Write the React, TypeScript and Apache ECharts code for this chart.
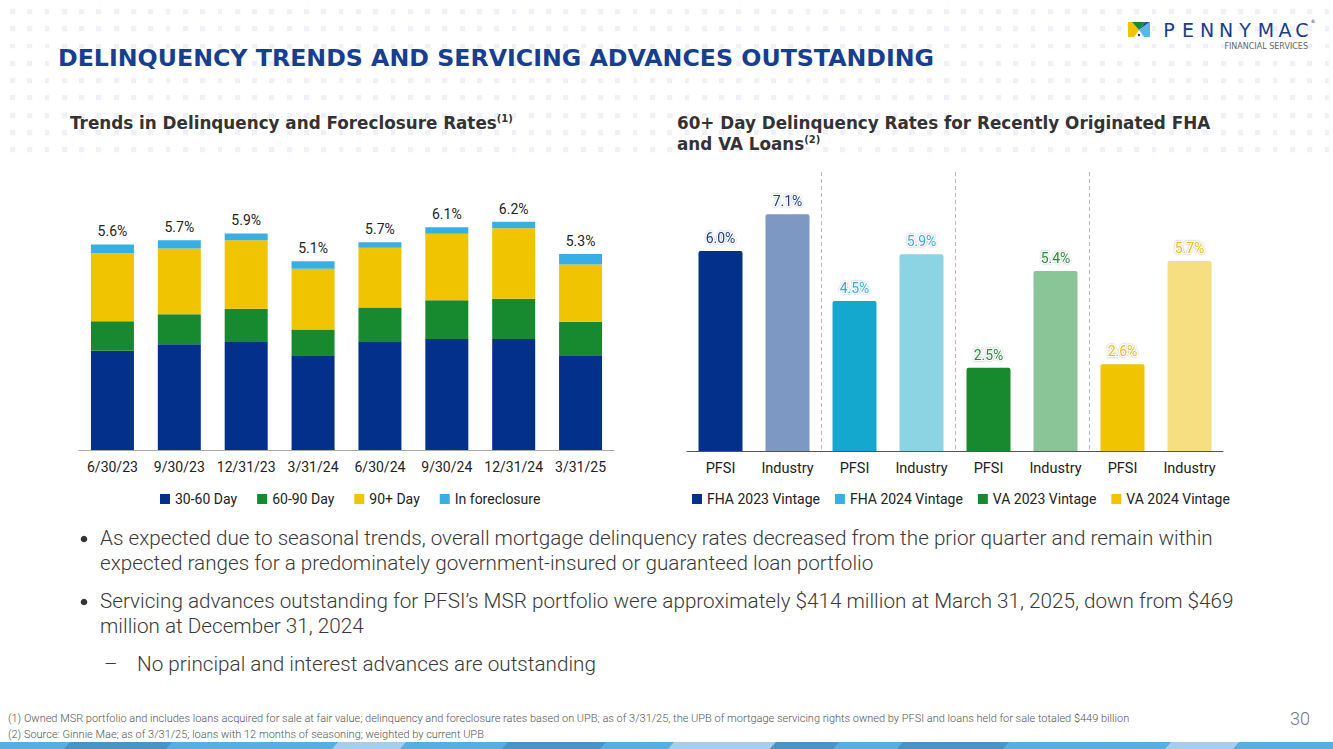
import React, { useEffect, useRef } from "react";
import * as echarts from "echarts";

// ---- Left chart data ----
const quarters = ["6/30/23", "9/30/23", "12/31/23", "3/31/24", "6/30/24", "9/30/24", "12/31/24", "3/31/25"];
const day3060 = [2.70, 2.88, 2.94, 2.56, 2.94, 3.02, 3.02, 2.58];
const day6090 = [0.81, 0.82, 0.91, 0.72, 0.94, 1.06, 1.10, 0.91];
const day90plus = [1.85, 1.79, 1.86, 1.66, 1.63, 1.81, 1.92, 1.56];
const inForeclosure = [0.24, 0.22, 0.19, 0.20, 0.15, 0.18, 0.18, 0.29];
const totalRates = [5.6, 5.7, 5.9, 5.1, 5.7, 6.1, 6.2, 5.3];
const leftSeriesNames = ["30-60 Day", "60-90 Day", "90+ Day", "In foreclosure"];

// ---- Right chart data ----
const vintages = ["FHA 2023 Vintage", "FHA 2024 Vintage", "VA 2023 Vintage", "VA 2024 Vintage"];
const groupLabels = ["PFSI", "Industry"];
const pfsiRates = [6.0, 4.5, 2.5, 2.6];
const industryRates = [7.1, 5.9, 5.4, 5.7];

const leftColors = ["#02308a", "#178a2f", "#f1c400", "#38aee2"];
const vintageLegendColors = ["#02308a", "#38aee2", "#178a2f", "#f1c400"];
const pfsiColors = ["#02308a", "#14a8cf", "#178a2f", "#f1c400"];
const industryColors = ["#7e98c4", "#8cd3e3", "#89c596", "#f6df80"];
const labelColors = ["#22408a", "#35aedb", "#2b8c3f", "#eac21c"];

const bullets = [
  { y: 538, text: "As expected due to seasonal trends, overall mortgage delinquency rates decreased from the prior quarter and remain within", bullet: true },
  { y: 563, text: "expected ranges for a predominately government-insured or guaranteed loan portfolio", bullet: false },
  { y: 601, text: "Servicing advances outstanding for PFSI\u2019s MSR portfolio were approximately $414 million at March 31, 2025, down from $469", bullet: true },
  { y: 626, text: "million at December 31, 2024", bullet: false },
];

const footnotes = [
  "(1) Owned MSR portfolio and includes loans acquired for sale at fair value; delinquency and foreclosure rates based on UPB; as of 3/31/25, the UPB of mortgage servicing rights owned by PFSI and loans held for sale totaled $449 billion",
  "(2) Source: Ginnie Mae; as of 3/31/25; loans with 12 months of seasoning; weighted by current UPB",
];

const stripeBands = [
  { x0: 0, x1: 1333, c: "#5aaddf" },
  { x0: 64, x1: 166, c: "#4b93c2" },
  { x0: 332, x1: 400, c: "#a7cdec" },
  { x0: 502, x1: 600, c: "#4b93c2" },
  { x0: 668, x1: 770, c: "#a7cdec" },
  { x0: 770, x1: 833, c: "#4b93c2" },
  { x0: 897, x1: 1003, c: "#4b93c2" },
  { x0: 1165, x1: 1233, c: "#a7cdec" },
];

const patternUrl =
  "url(\"data:image/svg+xml;utf8,<svg xmlns='http://www.w3.org/2000/svg' width='17.3' height='17.3'><rect x='0' y='0' width='5' height='5' fill='%23eef1f7'/></svg>\")";

const BODY_FONT = "'Roboto Light', Roboto";

function buildOption() {
  const rightKeys: string[] = [];
  vintages.forEach((v) => groupLabels.forEach((g) => rightKeys.push(g + "|" + v)));

  const leftData = [day3060, day6090, day90plus, inForeclosure];
  const leftSeries = leftSeriesNames.map((name, i) => ({
    name,
    type: "bar",
    stack: "left",
    xAxisIndex: 0,
    yAxisIndex: 0,
    barWidth: 43,
    itemStyle: { color: leftColors[i] },
    data: leftData[i],
    label:
      i === 3
        ? {
            show: true,
            position: "top",
            distance: 6,
            fontFamily: "Roboto",
            fontSize: 14,
            color: "#222",
            formatter: (p: any) => totalRates[p.dataIndex].toFixed(1) + "%",
          }
        : { show: false },
  }));

  const rightSeries = vintages.map((name, v) => {
    const data: any[] = rightKeys.map(() => "-");
    data[2 * v] = { value: pfsiRates[v], itemStyle: { color: pfsiColors[v] } };
    data[2 * v + 1] = { value: industryRates[v], itemStyle: { color: industryColors[v] } };
    return {
      name,
      type: "bar",
      stack: "right",
      xAxisIndex: 1,
      yAxisIndex: 1,
      barWidth: 44,
      itemStyle: { color: vintageLegendColors[v], borderRadius: [2, 2, 0, 0] },
      data,
      label: {
        show: true,
        position: "top",
        distance: 6,
        fontFamily: "Roboto",
        fontSize: 14,
        color: labelColors[v],
        textBorderColor: "rgba(255,255,255,0.9)",
        textBorderWidth: 2,
        textShadowColor: "rgba(0,0,0,0.35)",
        textShadowBlur: 2,
        formatter: (p: any) => Number(p.value).toFixed(1) + "%",
      },
    };
  });

  const graphics: any[] = [];

  // bottom stripe
  stripeBands.forEach((b, i) => {
    const s = i === 0 ? 0 : 6;
    graphics.push({
      type: "polygon",
      silent: true,
      shape: { points: [[b.x0 + s, 742], [b.x1 + s, 742], [b.x1, 749], [b.x0, 749]] },
      style: { fill: b.c },
    });
  });

  // title
  graphics.push({
    type: "text",
    x: 58,
    y: 58,
    style: {
      text: "DELINQUENCY TRENDS AND SERVICING ADVANCES OUTSTANDING",
      fontFamily: "DejaVu Sans",
      fontWeight: "bold",
      fontSize: 23.7,
      fill: "#173e8f",
      textVerticalAlign: "middle",
    },
  });

  // subtitles
  const subRich = {
    a: { fontFamily: "DejaVu Sans", fontWeight: "bold", fontSize: 16.8, fill: "#333", lineHeight: 22 },
    s: { fontFamily: "DejaVu Sans", fontWeight: "bold", fontSize: 10, fill: "#333", lineHeight: 22, padding: [0, 0, 10, 0] },
  };
  graphics.push({
    type: "text",
    x: 70,
    y: 123,
    style: {
      text: "{a|Trends in Delinquency and Foreclosure Rates}{s|(1)}",
      rich: subRich,
      textVerticalAlign: "middle",
    },
  });
  graphics.push({
    type: "text",
    x: 677,
    y: 123,
    style: {
      text: "{a|60+ Day Delinquency Rates for Recently Originated FHA}",
      rich: subRich,
      textVerticalAlign: "middle",
    },
  });
  graphics.push({
    type: "text",
    x: 677,
    y: 144,
    style: {
      text: "{a|and VA Loans}{s|(2)}",
      rich: subRich,
      textVerticalAlign: "middle",
    },
  });

  // bullets
  bullets.forEach((b) => {
    if (b.bullet) {
      graphics.push({ type: "circle", shape: { cx: 84, cy: b.y + 1, r: 3.3 }, style: { fill: "#333" } });
    }
    graphics.push({
      type: "text",
      x: 100,
      y: b.y,
      style: {
        text: b.text,
        fontFamily: BODY_FONT,
        fontWeight: 300,
        fontSize: 20.7,
        fill: "#3a3a3a",
        textVerticalAlign: "middle",
      },
    });
  });
  graphics.push({
    type: "text",
    x: 104,
    y: 664,
    style: { text: "\u2013", fontFamily: BODY_FONT, fontWeight: 300, fontSize: 20.7, fill: "#3a3a3a", textVerticalAlign: "middle" },
  });
  graphics.push({
    type: "text",
    x: 137,
    y: 664,
    style: {
      text: "No principal and interest advances are outstanding",
      fontFamily: BODY_FONT,
      fontWeight: 300,
      fontSize: 20.7,
      fill: "#3a3a3a",
      textVerticalAlign: "middle",
    },
  });

  // footnotes
  footnotes.forEach((t, i) => {
    graphics.push({
      type: "text",
      x: 8,
      y: 718 + i * 16,
      style: { text: t, fontFamily: BODY_FONT, fontWeight: 300, fontSize: 11, fill: "#555", textVerticalAlign: "middle" },
    });
  });
  graphics.push({
    type: "text",
    x: 1310,
    y: 718,
    style: { text: "30", fontFamily: BODY_FONT, fontWeight: 300, fontSize: 18, fill: "#777", textAlign: "right", textVerticalAlign: "middle" },
  });

  // logo
  const lx = 1128, ly = 22;
  const logoPolys = [
    { pts: [[0, 0], [4, 0], [11, 8], [6, 15], [0, 15]], c: "#f1c400" },
    { pts: [[4, 0], [17, 0], [11, 8]], c: "#178a2f" },
    { pts: [[17, 0], [22, 0], [11, 8]], c: "#1f4fa0" },
    { pts: [[22, 0], [22, 15], [16, 15], [11, 8]], c: "#5bb8e8" },
  ];
  logoPolys.forEach((p) =>
    graphics.push({
      type: "polygon",
      shape: { points: p.pts.map(([x, y]) => [lx + x, ly + y]) },
      style: { fill: p.c },
    })
  );
  graphics.push({ type: "circle", shape: { cx: lx + 11, cy: ly + 13, r: 1.2 }, style: { fill: "#1b2f5f" } });
  const letters = "PENNYMAC".split("");
  const letterCenters = [1169, 1188, 1207, 1226, 1245, 1266, 1285, 1302];
  letters.forEach((ch, i) =>
    graphics.push({
      type: "text",
      x: letterCenters[i],
      y: 30,
      style: {
        text: ch,
        fontFamily: "DejaVu Sans",
        fontSize: 19,
        fill: "#173e8f",
        textAlign: "center",
        textVerticalAlign: "middle",
      },
    })
  );
  graphics.push({
    type: "text",
    x: 1313,
    y: 21,
    style: { text: "\u00ae", fontFamily: "DejaVu Sans", fontSize: 5, fill: "#173e8f", textAlign: "center", textVerticalAlign: "middle" },
  });
  graphics.push({
    type: "text",
    x: 1308,
    y: 46,
    style: {
      text: "FINANCIAL SERVICES",
      fontFamily: "DejaVu Sans",
      fontSize: 8,
      fill: "#666",
      textAlign: "right",
      textVerticalAlign: "middle",
    },
  });

  return {
    animation: false,
    backgroundColor: "transparent",
    textStyle: { fontFamily: "Roboto" },
    grid: [
      { left: 79, top: 193, width: 535, height: 257 },
      { left: 687, top: 172, width: 536, height: 279 },
    ],
    xAxis: [
      {
        type: "category",
        gridIndex: 0,
        data: quarters,
        axisLine: { lineStyle: { color: "#aaa", width: 1.2 } },
        axisTick: { show: false },
        axisLabel: { fontFamily: "Roboto", fontSize: 14, color: "#222", margin: 10, interval: 0 },
      },
      {
        type: "category",
        gridIndex: 1,
        data: rightKeys,
        axisLine: { lineStyle: { color: "#555", width: 1.2 } },
        axisTick: { show: false },
        axisLabel: {
          fontFamily: "Roboto",
          fontSize: 14.5,
          color: "#222",
          margin: 10,
          interval: 0,
          formatter: (v: string) => v.split("|")[0],
        },
      },
      {
        // group separators (between vintages) on the same grid
        type: "value",
        gridIndex: 1,
        min: 0,
        max: 8,
        interval: 2,
        position: "top",
        axisLine: { show: false },
        axisTick: { show: false },
        axisLabel: { show: false },
        splitLine: {
          show: true,
          showMinLine: false,
          showMaxLine: false,
          lineStyle: { color: "#bbb", type: [4, 3], width: 1 },
        },
      },
    ],
    yAxis: [
      { type: "value", gridIndex: 0, min: 0, max: 7, show: false },
      { type: "value", gridIndex: 1, min: 0, max: 8.37, show: false },
    ],
    legend: [
      {
        data: leftSeriesNames,
        left: 155,
        top: 487,
        itemWidth: 10,
        itemHeight: 10,
        itemGap: 20,
        icon: "rect",
        textStyle: { fontFamily: "Roboto", fontSize: 14, color: "#222" },
      },
      {
        data: vintages,
        left: 687,
        top: 487,
        itemWidth: 10,
        itemHeight: 10,
        itemGap: 15,
        icon: "rect",
        textStyle: { fontFamily: "Roboto", fontSize: 14, color: "#222" },
      },
    ],
    series: [...leftSeries, ...rightSeries],
    graphic: { elements: graphics },
  };
}

export default function App() {
  const ref = useRef<HTMLDivElement>(null);
  useEffect(() => {
    if (!ref.current) return;
    const chart = echarts.init(ref.current, undefined, { renderer: "svg" });
    chart.setOption(buildOption() as any);
    return () => chart.dispose();
  }, []);
  return (
    <div style={{ position: "absolute", left: 0, top: 0, width: 1333, height: 749, background: "#fff", overflow: "hidden" }}>
      <div
        style={{
          position: "absolute",
          left: 0,
          top: 0,
          width: 1333,
          height: 158,
          backgroundImage: patternUrl,
          backgroundSize: "17.3px 17.3px",
          backgroundPosition: "10px 9px",
        }}
      />
      <div ref={ref} style={{ position: "absolute", left: 0, top: 0, width: 1333, height: 749 }} />
    </div>
  );
}
